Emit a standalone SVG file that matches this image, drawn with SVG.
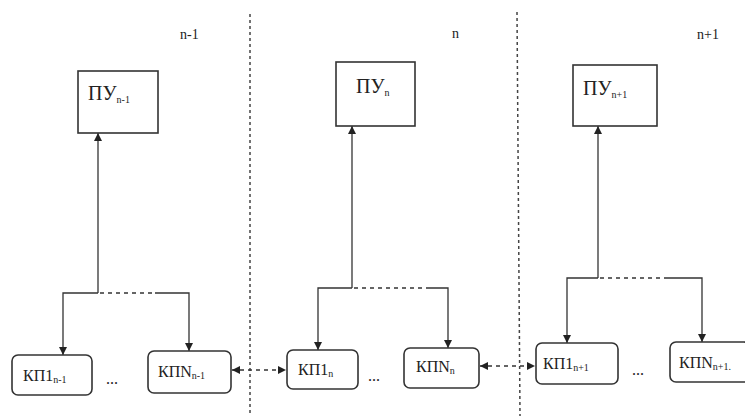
<svg xmlns="http://www.w3.org/2000/svg" width="745" height="416" viewBox="0 0 745 416">
<defs>
<marker id="ah" viewBox="0 0 10 10" refX="10" refY="5" markerWidth="8" markerHeight="9" markerUnits="userSpaceOnUse" orient="auto-start-reverse">
<path d="M0,0 L10,5 L0,10 Z" fill="#222"/>
</marker>
</defs>
<style>
.t{font-family:"Liberation Serif","Times New Roman",serif;fill:#222}
.box{fill:#fff;stroke:#333;stroke-width:1.6}
.ln{fill:none;stroke:#333;stroke-width:1.3}
.dl{fill:none;stroke:#333;stroke-width:1.3;stroke-dasharray:4,4}
.div{fill:none;stroke:#444;stroke-width:1.5;stroke-dasharray:3,3}
</style>
<rect width="745" height="416" fill="#fff"/>
<g id="dividers">
<line class="div" x1="250" y1="14" x2="250" y2="416"/>
<line class="div" x1="517" y1="12" x2="520" y2="416"/>
</g>
<g id="labels">
<text class="t" x="180" y="39" font-size="14">n-1</text>
<text class="t" x="452" y="38" font-size="14">n</text>
<text class="t" x="697" y="39" font-size="14">n+1</text>
</g>
<g id="connectors">
<line class="ln" x1="98" y1="293" x2="98" y2="133" marker-end="url(#ah)"/>
<polyline class="ln" points="98,293 63,293 63,355" marker-end="url(#ah)"/>
<line class="dl" x1="100" y1="293" x2="155" y2="293"/>
<polyline class="ln" points="155,293 189,293 189,351" marker-end="url(#ah)"/>
<line class="ln" x1="352" y1="288" x2="352" y2="126" marker-end="url(#ah)"/>
<polyline class="ln" points="352,288 318,288 318,350" marker-end="url(#ah)"/>
<line class="dl" x1="354" y1="288" x2="430" y2="288"/>
<polyline class="ln" points="430,288 448,288 448,348" marker-end="url(#ah)"/>
<line class="ln" x1="598" y1="278" x2="598" y2="126" marker-end="url(#ah)"/>
<polyline class="ln" points="598,278 567,278 567,343" marker-end="url(#ah)"/>
<line class="dl" x1="600" y1="278" x2="665" y2="278"/>
<polyline class="ln" points="665,278 702,278 702,342" marker-end="url(#ah)"/>
<line class="dl" x1="232" y1="370" x2="286" y2="370" marker-start="url(#ah)" marker-end="url(#ah)"/>
<line class="dl" x1="480" y1="366" x2="535" y2="366" marker-start="url(#ah)" marker-end="url(#ah)"/>
</g>
<g id="PU_n-1">
<rect class="box" x="78" y="71" width="80" height="62"/>
<text class="t" x="88" y="100" font-size="20">ПУ<tspan font-size="10" dy="3">n-1</tspan></text>
</g>
<g id="PU_n">
<rect class="box" x="336" y="62" width="79" height="64"/>
<text class="t" x="356" y="93" font-size="20">ПУ<tspan font-size="10" dy="3">n</tspan></text>
</g>
<g id="PU_n1">
<rect class="box" x="573" y="65" width="84" height="61"/>
<text class="t" x="583" y="95" font-size="20">ПУ<tspan font-size="10" dy="3">n+1</tspan></text>
</g>
<g id="KP1_n-1">
<rect class="box" x="12" y="355" width="80" height="40" rx="6"/>
<text class="t" x="23" y="381" font-size="16">КП1<tspan font-size="10" dy="2">n-1</tspan></text>
</g>
<g id="KPN_n-1">
<rect class="box" x="148" y="351" width="83" height="42" rx="6"/>
<text class="t" x="158" y="377" font-size="16">КПN<tspan font-size="10" dy="2">n-1</tspan></text>
</g>
<g id="KP1_n">
<rect class="box" x="287" y="350" width="71" height="39" rx="6"/>
<text class="t" x="298" y="375" font-size="16">КП1<tspan font-size="10" dy="2">n</tspan></text>
</g>
<g id="KPN_n">
<rect class="box" x="404" y="348" width="75" height="40" rx="6"/>
<text class="t" x="416" y="372" font-size="16">КПN<tspan font-size="10" dy="2">n</tspan></text>
</g>
<g id="KP1_n1">
<rect class="box" x="536" y="343" width="82" height="41" rx="6"/>
<text class="t" x="543" y="369" font-size="16">КП1<tspan font-size="10" dy="2">n+1</tspan></text>
</g>
<g id="KPN_n1">
<rect class="box" x="670" y="342" width="80" height="40" rx="6"/>
<text class="t" x="679" y="368" font-size="16">КПN<tspan font-size="10" dy="2">n+1.</tspan></text>
</g>
<g id="dots">
<text class="t" x="106" y="384" font-size="16">...</text>
<text class="t" x="368" y="381" font-size="16">...</text>
<text class="t" x="632" y="375" font-size="16">...</text>
</g>
</svg>
